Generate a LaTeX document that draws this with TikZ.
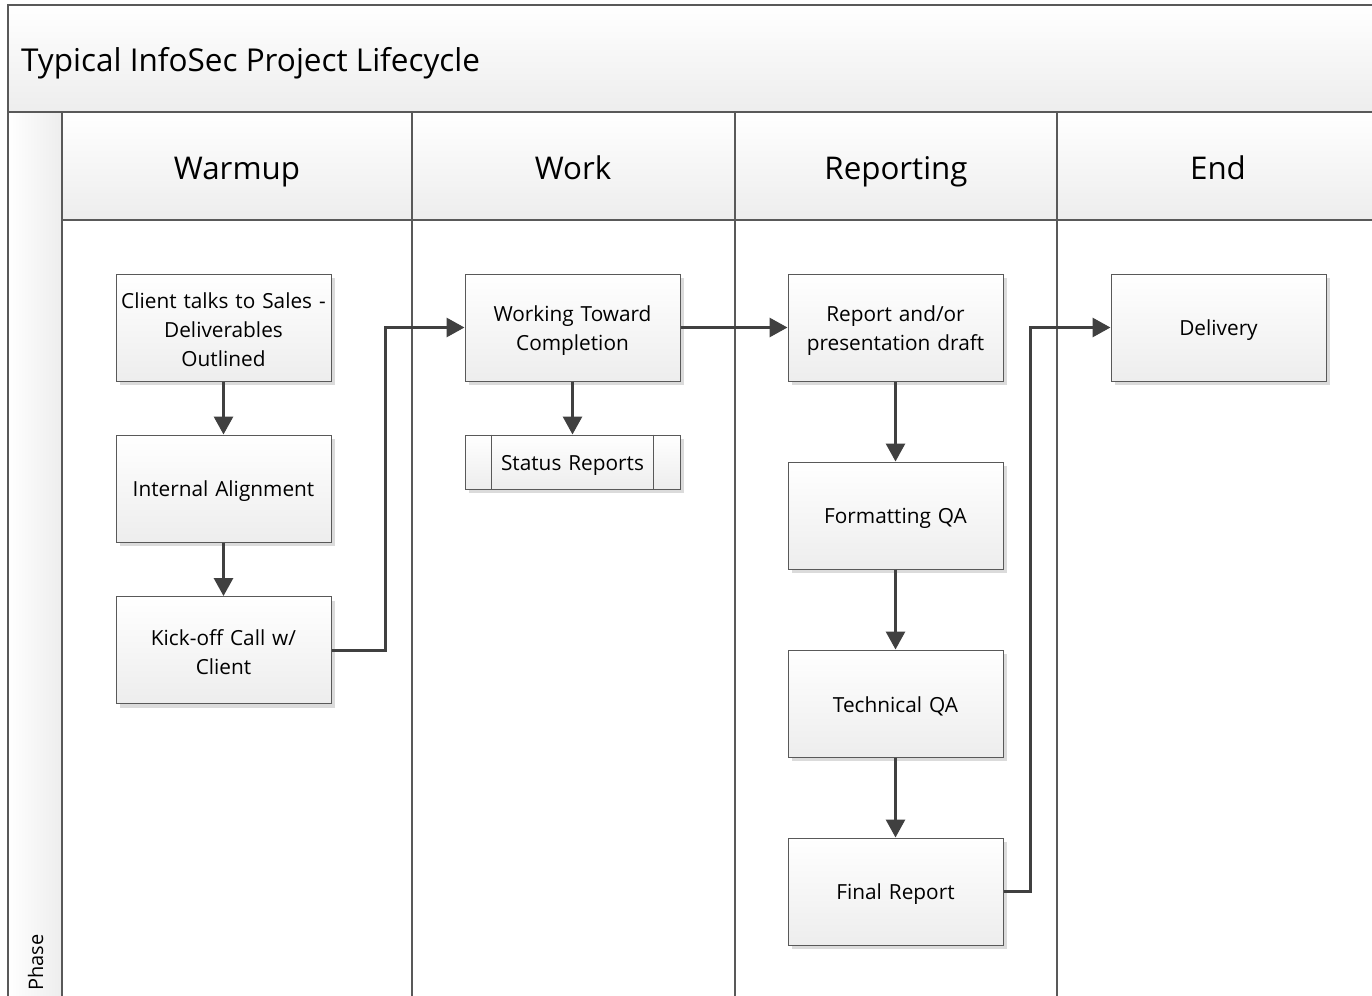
\documentclass[tikz,border=0pt]{standalone}
\usepackage{fontspec}
\setmainfont{Open Sans}
\usetikzlibrary{arrows.meta,shadows}
\definecolor{linegray}{HTML}{595959}
\definecolor{arrowgray}{HTML}{404040}
\definecolor{shadegray}{HTML}{EDEDED}
\tikzset{
  procbox/.style={draw=linegray, line width=1pt, minimum width=215pt, minimum height=107pt,
    top color=white, bottom color=shadegray, align=center, text width=212pt,
    font=\fontsize{20.8}{29}\selectfont, inner sep=0pt,
    execute at begin node={\rule{0pt}{21pt}},
    drop shadow={shadow xshift=4pt, shadow yshift=-4pt, fill=black!14, opacity=1}},
  flow/.style={draw=arrowgray, line width=3pt, -{Triangle[length=18pt,width=19pt]}},
  lane/.style={draw=linegray, line width=2pt},
  band/.style={top color=white, bottom color=shadegray, draw=none},
  headtext/.style={font=\fontsize{31.3}{36}\selectfont, inner sep=0pt, anchor=base},
}
\begin{document}
\begin{tikzpicture}[x=1pt,y=-1pt]
\useasboundingbox (0,0) rectangle (1372,995);
\begin{scope}
\clip (0,0) rectangle (1372,995);
% title band
\fill[band] (8,5) rectangle (1380,112);
% phase column
\shade[left color=white, right color=shadegray] (8,112) rectangle (62,1000);
% lane headers
\fill[band] (62,112) rectangle (1380,220);
\fill[white] (62,220) rectangle (1380,1000);
% lines
\draw[lane] (8,1000) -- (8,5) -- (1380,5);
\draw[lane] (8,112) -- (1380,112);
\draw[lane] (62,220) -- (1380,220);
\draw[lane] (62,112) -- (62,1000);
\draw[lane] (412,112) -- (412,1000);
\draw[lane] (735,112) -- (735,1000);
\draw[lane] (1057,112) -- (1057,1000);
\end{scope}
\node[anchor=base west, inner sep=0pt, font=\fontsize{31.5}{36}\selectfont] (title) at (21,71.5) {Typical InfoSec Project Lifecycle};
\node[anchor=base west, rotate=90, inner sep=0pt, font=\fontsize{20}{24}\selectfont] (phase) at (43,991) {Phase};
\node[headtext] (h1) at (237,179) {Warmup};
\node[headtext] (h2) at (573,179) {Work};
\node[headtext] (h3) at (896,179) {Reporting};
\node[headtext] (h4) at (1218,179) {End};

\node[procbox] (client) at (223.5,327.5) {Client talks to Sales -\\Deliverables\\Outlined};
\node[procbox] (align) at (223.5,488.5) {Internal Alignment};
\node[procbox] (kick) at (223.5,650) {Kick-off Call w/\\Client};
\node[procbox] (work) at (572.5,327.5) {Working Toward\\Completion};
\node[procbox, minimum height=54pt] (status) at (572.5,462) {Status Reports};
\draw[linegray, line width=1pt] ([xshift=27pt]status.north west) -- ([xshift=27pt]status.south west);
\draw[linegray, line width=1pt] ([xshift=-27pt]status.north east) -- ([xshift=-27pt]status.south east);
\node[procbox] (draft) at (895.5,327.5) {Report and/or\\presentation draft};
\node[procbox] (fmt) at (895.5,515.5) {Formatting QA};
\node[procbox] (tech) at (895.5,703.5) {Technical QA};
\node[procbox] (final) at (895.5,891.5) {Final Report};
\node[procbox] (deliv) at (1218.5,327.5) {Delivery};

\coordinate (k1) at (385,650);
\coordinate (k2) at (385,327.5);
\coordinate (f1) at (1030,891.5);
\coordinate (f2) at (1030,327.5);
\draw[flow] (client) -- (align);
\draw[flow] (align) -- (kick);
\draw[flow] (kick.east) -- (k1) -- (k2) -- (work.west);
\draw[flow] (work) -- (status);
\draw[flow] (work) -- (draft);
\draw[flow] (draft) -- (fmt);
\draw[flow] (fmt) -- (tech);
\draw[flow] (tech) -- (final);
\draw[flow] (final.east) -- (f1) -- (f2) -- (deliv.west);
\end{tikzpicture}
\end{document}
